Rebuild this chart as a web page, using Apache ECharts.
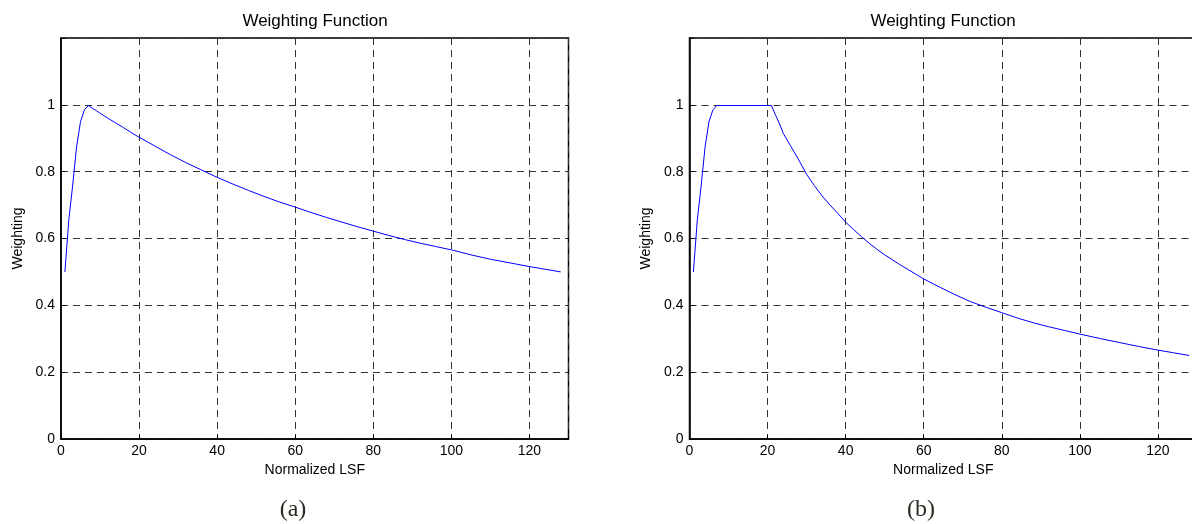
<!DOCTYPE html>
<html>
<head>
<meta charset="utf-8">
<script src="https://cdn.jsdelivr.net/npm/echarts@6/dist/echarts.min.js"></script>
<style>
  html, body { margin: 0; padding: 0; background: #ffffff; }
  #chart { width: 1192px; height: 524px; }
</style>
</head>
<body>
<div id="chart"></div>
<script>
// ---- Data ----
const titleText = 'Weighting Function';
const xAxisName = 'Normalized LSF';
const yAxisName = 'Weighting';
const panelLabels = ['(a)', '(b)'];

// Panel (a)
const xA = [1, 2, 3, 4, 5, 6, 7, 8, 9, 10, 12, 14, 16, 18, 20, 24, 28, 32, 36, 40,
            44, 48, 52, 56, 60, 64, 68, 72, 76, 80, 84, 88, 92, 96, 100, 105, 110, 115, 120, 124, 128];
const yA = [0.50, 0.655, 0.76, 0.875, 0.95, 0.985, 0.998, 0.99, 0.983, 0.975, 0.96, 0.946, 0.932, 0.917, 0.903,
            0.877, 0.851, 0.827, 0.805, 0.783, 0.763, 0.744, 0.726, 0.709, 0.694, 0.678, 0.663, 0.649, 0.635, 0.622,
            0.609, 0.597, 0.586, 0.576, 0.566, 0.551, 0.538, 0.527, 0.516, 0.508, 0.50];

// Panel (b)
const xB = [1, 2, 3, 4, 5, 6, 7, 21, 22, 23, 24, 26, 28, 30, 32, 34, 36, 38, 40, 42, 44, 46, 48, 50,
            52, 54, 56, 58, 60, 64, 68, 72, 76, 80, 84, 88, 92, 96, 100, 105, 110, 115, 120, 124, 128];
const yB = [0.50, 0.655, 0.76, 0.875, 0.95, 0.985, 0.998, 0.998, 0.97, 0.945, 0.915, 0.875, 0.835, 0.792,
            0.758, 0.727, 0.70, 0.675, 0.649, 0.627, 0.606, 0.586, 0.568, 0.551, 0.536, 0.521, 0.507, 0.493,
            0.479, 0.455, 0.432, 0.411, 0.394, 0.378, 0.362, 0.348, 0.336, 0.325, 0.314, 0.301, 0.289, 0.277,
            0.266, 0.258, 0.25];

const xTicks = [0, 20, 40, 60, 80, 100, 120];
const yTicks = [0, 0.2, 0.4, 0.6, 0.8, 1];

// ---- Chart ----
const chart = echarts.init(document.getElementById('chart'));
const font = 'Liberation Sans, Arial, sans-serif';
const grids = [
  { left: 61, top: 38, width: 507.5, height: 401 },
  { left: 689.5, top: 38, width: 507.5, height: 401 }
];

function makeX(i) {
  return {
    type: 'value', gridIndex: i, min: 0, max: 130, interval: 20,
    name: xAxisName, nameLocation: 'middle', nameGap: 23,
    nameTextStyle: { fontFamily: font, fontSize: 14, color: '#000' },
    axisLine: { show: true, onZero: false, lineStyle: { color: '#000', width: 1.5 } },
    axisTick: { show: true, inside: true, length: 4, lineStyle: { color: '#000' } },
    axisLabel: {
      margin: 5, fontFamily: font, fontSize: 14, color: '#000',
      formatter: v => (xTicks.indexOf(v) >= 0 ? String(v) : '')
    },
    splitLine: { show: true, lineStyle: { color: '#333', width: 1, type: [7, 5] } }
  };
}
function makeY(i) {
  return {
    type: 'value', gridIndex: i, min: 0, max: 1.2, interval: 0.2,
    name: yAxisName, nameLocation: 'middle', nameGap: 36,
    nameTextStyle: { fontFamily: font, fontSize: 14, color: '#000' },
    axisLine: { show: true, lineStyle: { color: '#000', width: 1.5 } },
    axisTick: { show: true, inside: true, length: 4, lineStyle: { color: '#000' } },
    axisLabel: {
      margin: 6, fontFamily: font, fontSize: 14, color: '#000',
      formatter: v => {
        const r = Math.round(v * 10) / 10;
        return yTicks.indexOf(r) >= 0 ? String(r) : '';
      }
    },
    splitLine: { show: true, lineStyle: { color: '#333', width: 1, type: [7, 5] } }
  };
}

const option = {
  backgroundColor: '#ffffff',
  animation: false,
  grid: grids.map(g => Object.assign({
    show: true, borderColor: '#000', borderWidth: 1.5, backgroundColor: 'transparent',
    containLabel: false, outerBoundsMode: 'none'
  }, g)),
  xAxis: [makeX(0), makeX(1)],
  yAxis: [makeY(0), makeY(1)],
  series: [
    {
      type: 'line', xAxisIndex: 0, yAxisIndex: 0, showSymbol: false, smooth: false,
      lineStyle: { color: '#0000ff', width: 1 },
      data: xA.map((x, k) => [x, yA[k]])
    },
    {
      type: 'line', xAxisIndex: 1, yAxisIndex: 1, showSymbol: false, smooth: false,
      lineStyle: { color: '#0000ff', width: 1 },
      data: xB.map((x, k) => [x, yB[k]])
    }
  ],
  graphic: [
    { type: 'text', x: 315, y: 21, style: { text: titleText, font: '17px ' + font, fill: '#000', textAlign: 'center', textVerticalAlign: 'middle' } },
    { type: 'text', x: 943, y: 21, style: { text: titleText, font: '17px ' + font, fill: '#000', textAlign: 'center', textVerticalAlign: 'middle' } },
    { type: 'text', x: 293, y: 510, style: { text: panelLabels[0], font: '24px Liberation Serif, Times New Roman, serif', fill: '#2b2b22', textAlign: 'center', textVerticalAlign: 'middle' } },
    { type: 'text', x: 921, y: 510, style: { text: panelLabels[1], font: '24px Liberation Serif, Times New Roman, serif', fill: '#2b2b22', textAlign: 'center', textVerticalAlign: 'middle' } }
  ]
};
chart.setOption(option);
</script>
</body>
</html>
